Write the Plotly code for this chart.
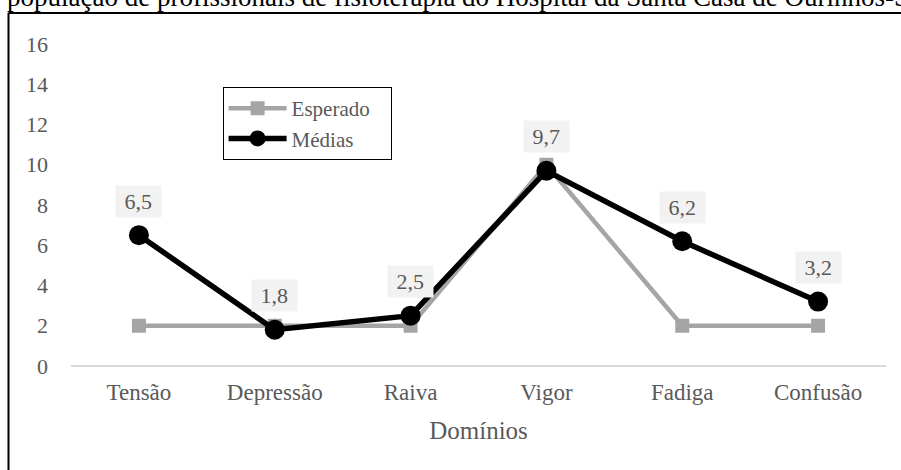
import plotly.graph_objects as go

# dados do gráfico
dominios = ["Tensão", "Depressão", "Raiva", "Vigor", "Fadiga", "Confusão"]
esperado = [2, 2, 2, 10, 2, 2]
medias = [6.5, 1.8, 2.5, 9.7, 6.2, 3.2]
y_ticks = [0, 2, 4, 6, 8, 10, 12, 14, 16]
titulo = "população de profissionais de fisioterapia do Hospital da Santa Casa de Ourinhos-SP"

serif = "Liberation Serif, Times New Roman, serif"
txt_gray = "#595959"
nb = "\u00a0"

fig = go.Figure()
fig.add_trace(go.Scatter(
    x=dominios, y=esperado, name="Esperado" + nb * 3, mode="lines+markers",
    line=dict(color="#a5a5a5", width=4.5),
    marker=dict(symbol="square", size=14, color="#a5a5a5"),
))
fig.add_trace(go.Scatter(
    x=dominios, y=medias, name="Médias", mode="lines+markers",
    line=dict(color="#000000", width=5.5),
    marker=dict(symbol="circle", size=20, color="#000000"),
))

# rótulos de dados
for d, v in zip(dominios, medias):
    fig.add_annotation(
        x=d, y=v, xref="x", yref="y", yshift=34,
        text=nb + ("%.1f" % v).replace(".", ",") + nb, showarrow=False,
        font=dict(family=serif, size=22, color=txt_gray),
        bgcolor="#f2f2f2", borderpad=3,
    )

# título cortado no topo
fig.add_annotation(
    x=-0.081, y=1.092, xref="paper", yref="paper",
    xanchor="left", yanchor="bottom", text=titulo, showarrow=False,
    font=dict(family=serif, size=27, color="#000000"),
)

# moldura
fig.add_shape(type="line", xref="paper", yref="paper",
              x0=-0.0767, x1=1.1, y0=1.0963, y1=1.0963,
              line=dict(color="#000000", width=2))
fig.add_shape(type="line", xref="paper", yref="paper",
              x0=-0.0767, x1=-0.0767, y0=1.0963, y1=-0.4,
              line=dict(color="#000000", width=2))

fig.update_layout(
    width=901, height=470,
    margin=dict(l=71, r=15, t=44, b=104),
    plot_bgcolor="white", paper_bgcolor="white",
    font=dict(family=serif, color=txt_gray),
    showlegend=True,
    legend=dict(
        x=0.186, y=0.8665, xanchor="left", yanchor="top",
        bordercolor="#000000", borderwidth=1, bgcolor="white",
        font=dict(family=serif, size=21, color=txt_gray),
        tracegroupgap=0, itemwidth=58,
    ),
    xaxis=dict(
        range=[-0.5, 5.5],
        title=dict(text="Domínios", font=dict(size=25, color=txt_gray), standoff=17),
        showgrid=False, showline=False, zeroline=False,
        tickfont=dict(size=23, color=txt_gray), ticks="", ticklabelstandoff=10,
    ),
    yaxis=dict(
        range=[0, 16], tickvals=y_ticks, showgrid=False,
        zeroline=True, zerolinecolor="#d9d9d9", zerolinewidth=2,
        showline=False, tickfont=dict(size=22, color=txt_gray), ticklabelstandoff=22,
    ),
)

# sem margem da página, para o título poder encostar no topo
fig.write_html("out.html", config={"displayModeBar": False},
               post_script="document.body.style.margin='0px';")
